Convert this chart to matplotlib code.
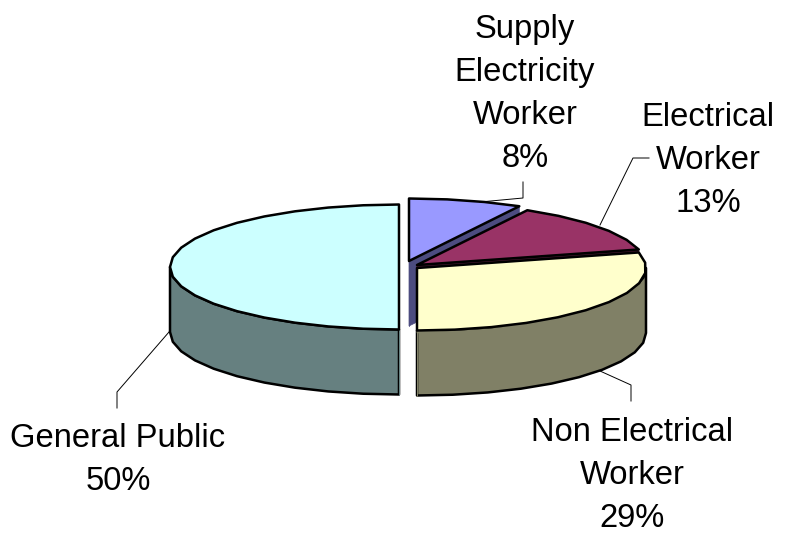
import numpy as np
import matplotlib
matplotlib.use('Agg')
import matplotlib.pyplot as plt

labels = ['Supply\nElectricity\nWorker', 'Electrical\nWorker', 'Non Electrical\nWorker', 'General Public']
shares = [8, 13, 29, 50]
top_colors = ['#9999FF', '#993366', '#FFFFCC', '#CCFFFF']
side_colors = ['#4C4C80', '#4C1933', '#808066', '#668080']

# pie geometry, in image pixels
centers = [(409, 261), (417, 265), (417, 268), (399, 267)]
rx, ry = 229, 62.5
depth = 65
label_pos = [(525, 94), (708, 160.5), (632, 475.5), (118, 460)]
leaders = [
    [(480, 202), (523, 198), (523, 182)],
    [(600, 225), (633, 158), (649, 158)],
    [(600, 371), (631, 385), (631, 401)],
    [(169, 332), (117, 392), (117, 408)],
]

plt.rcParams['font.family'] = ['Liberation Sans', 'DejaVu Sans']
fig = plt.figure(figsize=(7.93, 5.33), dpi=100)
ax = fig.add_axes([0, 0, 1, 1])
ax.set_xlim(0, 793)
ax.set_ylim(533, 0)
ax.axis('off')


def rim(c, a0, a1):
    # clockwise from 12 o'clock, coarse steps like the old office renderer
    n = max(2, int((a1 - a0) / 9) + 1)
    t = np.radians(np.linspace(a0, a1, n))
    return c[0] + rx * np.sin(t), c[1] - ry * np.cos(t)


def draw_slice(i, a0, a1):
    c = centers[i]
    x, y = rim(c, a0, a1)
    # outer wall, only the part facing the viewer
    lo, hi = max(a0, 90), min(a1, 270)
    if lo < hi:
        wx, wy = rim(c, lo, hi)
        ax.fill(np.r_[wx, wx[::-1]], np.r_[wy, wy[::-1] + depth],
                fc=side_colors[i], ec='black', lw=1.8, joinstyle='round')
    # cut faces
    for xe, ye in ((x[0], y[0]), (x[-1], y[-1])):
        ax.fill([c[0], xe, xe, c[0]], [c[1], ye, ye + depth, c[1] + depth],
                fc=side_colors[i], ec=side_colors[i], lw=0.5)
    ax.fill(np.r_[c[0], x], np.r_[c[1], y], fc=top_colors[i], ec='black', lw=1.8,
            joinstyle='round')


edges = np.cumsum([0] + shares) * 3.6
for i in [3, 0, 1, 2]:
    draw_slice(i, edges[i], edges[i + 1])

for pts in leaders:
    ax.plot([p[0] for p in pts], [p[1] for p in pts], color='black', lw=0.7)

for lab, sh, pos in zip(labels, shares, label_pos):
    ax.text(pos[0], pos[1], f'{lab}\n{sh}%', ha='center', va='center',
            fontsize=23.6, color='black', linespacing=1.5)

fig.savefig('out.png', dpi=100)
